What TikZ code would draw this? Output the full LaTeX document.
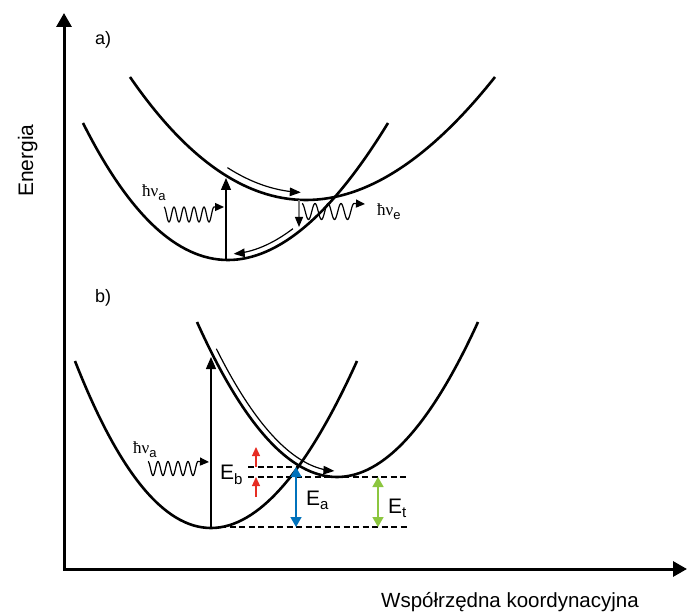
\documentclass[tikz,border=0pt]{standalone}
\usepackage{fontspec}
\setmainfont{Liberation Sans}
\newfontfamily\seriffont{Liberation Serif}
\usetikzlibrary{arrows.meta}
\definecolor{ered}{RGB}{230,45,35}
\definecolor{eblue}{RGB}{0,114,188}
\definecolor{egreen}{RGB}{140,198,63}
\newcommand\hnu{{\seriffont\fontsize{17}{17}\selectfont ħν}}
\newcommand\lowsub[3]{\raisebox{-#1}{\fontsize{#2}{#2}\selectfont #3}}
\newcommand\offcurve[9]{plot[domain=0:1,samples=40,variable=\u] ({qb(#8+(#9-#8)*\u,#1,#3,#5)+#7*qd(#8+(#9-#8)*\u,#2,#4,#6)/veclen(qd(#8+(#9-#8)*\u,#1,#3,#5),qd(#8+(#9-#8)*\u,#2,#4,#6))},{qb(#8+(#9-#8)*\u,#2,#4,#6)-#7*qd(#8+(#9-#8)*\u,#1,#3,#5)/veclen(qd(#8+(#9-#8)*\u,#1,#3,#5),qd(#8+(#9-#8)*\u,#2,#4,#6))})}
\begin{document}
\begin{tikzpicture}[x=1pt,y=-1pt,
  declare function={qb(\tv,\pa,\pb,\pc)=(1-\tv)*(1-\tv)*\pa+2*\tv*(1-\tv)*\pb+\tv*\tv*\pc;
                    qd(\tv,\pa,\pb,\pc)=0.02*((1-\tv)*(\pb-\pa)+\tv*(\pc-\pb));},
  axis/.style={line width=3pt},
  pes/.style={line width=2.6pt},
  fine/.style={line width=1.2pt},
  levl/.style={line width=1.2pt, dash pattern=on 6pt off 3.5pt},
  tx/.style={inner sep=0pt, font=\fontsize{21}{24}\selectfont},
  lbl/.style={inner sep=0pt, font=\fontsize{18}{20}\selectfont},
  bighead/.style={-{Triangle[length=12pt,width=10pt]}},
  midhead/.style={-{Triangle[length=11pt,width=8.5pt]}},
  wavehead/.style={-{Triangle[length=9pt,width=8pt]}},
  dbl/.style={{Triangle[length=10pt,width=11pt]}-{Triangle[length=10pt,width=11pt]}},
]
\useasboundingbox (0,0) rectangle (688,612);

% axes
\coordinate (O) at (64,569);
\coordinate (ytop) at (64,13);
\coordinate (xend) at (687,569);
\draw[axis, line join=miter, {Triangle[length=14pt,width=15pt]}-{Triangle[length=14pt,width=15pt]}] (ytop) -- (O) -- (xend);
\node[tx, rotate=90, anchor=base west] (en) at (33,197) {Energia};
\node[inner sep=0pt, font=\fontsize{20.5}{24}\selectfont, anchor=base] (xl) at (510,607) {Współrzędna koordynacyjna};

% ---------------- panel a
\node[lbl, anchor=base west] (la) at (95,45) {a)};
\draw[pes] (83,123) .. controls (174.67,305.67) and (276.33,305.67) .. (388,123);
\draw[pes] (130,77) .. controls (243,241) and (364.67,241) .. (495,77);

\coordinate (a0) at (226,260);
\coordinate (a1) at (226,178);
\draw[fine, bighead] (a0) -- (a1);
\coordinate (wa) at (224,207);
\draw[fine, wavehead] plot[domain=0:5,samples=121] ({164+10*\x},{214.5-7.5*cos(360*\x)}) -- (wa);
\node[inner sep=0pt, anchor=base west] (hva) at (142,197) {\hnu\lowsub{4pt}{13}{a}};

\coordinate (e0) at (299,200);
\coordinate (e1) at (299,227);
\draw[fine, gray, -{Triangle[length=10pt,width=8pt,color=black]}] (e0) -- (e1);
\coordinate (we) at (365,204);
\draw[fine, wavehead] plot[domain=0:4,samples=97] ({302+13*\x},{211.5-8*cos(360*\x)}) -- (we);
\node[inner sep=0pt, anchor=base west] (hve) at (377,216) {\hnu\lowsub{4pt}{13}{e}};

\draw[fine, midhead] \offcurve{130}{77}{299.5}{323}{495}{77}{7.5}{0.27}{0.485};
\draw[fine, midhead] \offcurve{83}{123}{220.5}{397}{388}{123}{6}{0.72}{0.52};

% ---------------- panel b
\node[lbl, anchor=base west] (lb) at (95,303) {b)};
\draw[levl] (248,467) -- (297,467);
\draw[levl] (248,477) -- (408,477);
\draw[levl] (220,527) -- (408,527);
\draw[pes] (75,361) .. controls (162.33,583.67) and (256.33,583.67) .. (357,361);
\draw[pes] (197,322) .. controls (290,528.67) and (383.67,528.67) .. (478,322);

\coordinate (b0) at (211,527);
\coordinate (b1) at (211,357);
\draw[fine, bighead] (b0) -- (b1);
\coordinate (wb) at (209,462);
\draw[fine, wavehead] plot[domain=0:5,samples=121] ({148+10*\x},{468.5-7*cos(360*\x)}) -- (wb);
\node[inner sep=0pt, anchor=base west] (hvb) at (133,453) {\hnu\lowsub{4pt}{13}{a}};

\draw[fine, midhead] \offcurve{197}{322}{336.5}{632}{478}{322}{6}{0.05}{0.49};

\coordinate (r1a) at (256,467); \coordinate (r1b) at (256,447);
\coordinate (r2a) at (256,497); \coordinate (r2b) at (256,477);
\draw[ered, fine, wavehead] (r1a) -- (r1b);
\draw[ered, fine, wavehead] (r2a) -- (r2b);
\coordinate (ba) at (296,467); \coordinate (bb) at (296,527);
\draw[eblue, line width=1.6pt, dbl] (ba) -- (bb);
\coordinate (ga) at (378,477); \coordinate (gb) at (378,527);
\draw[egreen, line width=1.6pt, dbl] (ga) -- (gb);

\node[tx, anchor=base west] (eb) at (220,479) {E\lowsub{5pt}{15}{b}};
\node[tx, anchor=base west] (ea) at (306,505) {E\lowsub{4pt}{15}{a}};
\node[tx, anchor=base west] (et) at (388,513) {E\lowsub{4pt}{15}{t}};
\end{tikzpicture}
\end{document}
